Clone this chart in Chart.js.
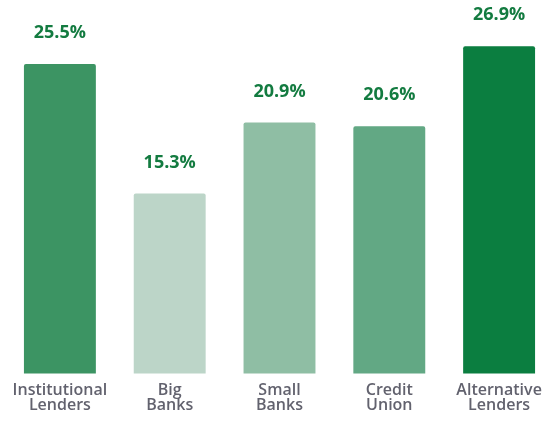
<!DOCTYPE html>
<html>
<head>
<meta charset="utf-8">
<script src="https://cdn.jsdelivr.net/npm/chart.js@4/dist/chart.umd.min.js"></script>
<style>
  html, body { margin: 0; padding: 0; background: #fff; }
  #wrap { width: 554px; height: 423px; }
</style>
</head>
<body>
<div id="wrap"><canvas id="lender-chart"></canvas></div>
<script>
// Data til grafen
var categories = [["Institutional", "Lenders"], ["Big", "Banks"], ["Small", "Banks"], ["Credit", "Union"], ["Alternative", "Lenders"]];
var shares = [25.5, 15.3, 20.9, 20.6, 26.9];
var barColors = ["#3c9463", "#bcd5c8", "#8fbea4", "#62a884", "#0b7e40"];

// Skriver procenttallet over hver søjle
var valueLabels = {
    id: 'valueLabels',
    afterDatasetsDraw: function (chart) {
        var ctx = chart.ctx;
        var meta = chart.getDatasetMeta(0);
        ctx.save();
        ctx.font = "bold 18px 'Open Sans', sans-serif";
        ctx.fillStyle = "#137b40";
        ctx.textAlign = "center";
        ctx.textBaseline = "middle";
        meta.data.forEach(function (bar, i) {
            ctx.fillText(shares[i].toFixed(1) + "%", bar.x, bar.y - 31);
        });
        ctx.restore();
    }
};

var ctx = document.getElementById('lender-chart').getContext('2d');
var chart = new Chart(ctx, {
    type: 'bar',
    data: {
        labels: categories,
        datasets: [{
            data: shares,
            backgroundColor: barColors,
            borderRadius: 2,
            borderSkipped: 'bottom',
            barPercentage: 0.655,
            categoryPercentage: 1
        }]
    },
    options: {
        responsive: true,
        maintainAspectRatio: false,
        animation: false,
        layout: { padding: { left: 5, right: 0, top: 7, bottom: 1 } },
        plugins: {
            legend: { display: false },
            tooltip: { enabled: false }
        },
        scales: {
            x: {
                grid: { display: false, drawTicks: false },
                border: { display: false },
                ticks: {
                    color: "#62626e",
                    padding: 9,
                    font: { family: "'Open Sans', sans-serif", size: 16, weight: '600', lineHeight: 0.95 }
                }
            },
            y: {
                display: false,
                min: 1.1,
                max: 30
            }
        }
    },
    plugins: [valueLabels]
});
</script>
</body>
</html>
